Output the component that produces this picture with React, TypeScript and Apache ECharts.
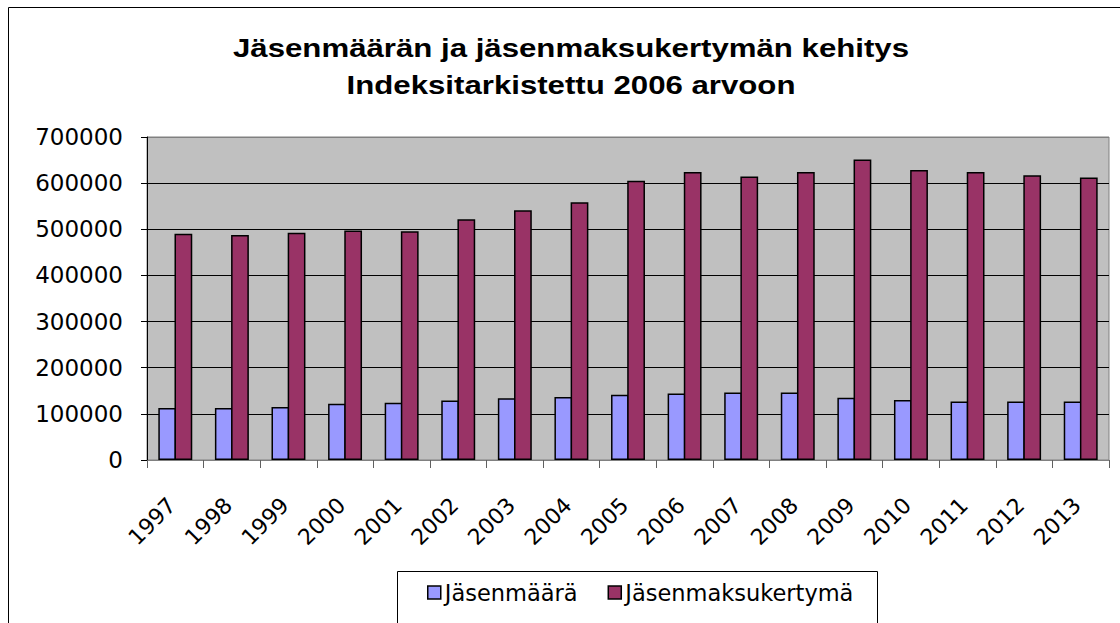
import React, { useEffect, useRef } from "react";
import * as echarts from "echarts";

const years = ["1997", "1998", "1999", "2000", "2001", "2002", "2003", "2004", "2005", "2006", "2007", "2008", "2009", "2010", "2011", "2012", "2013"];
const members = [112500, 112500, 114600, 121800, 124000, 129000, 134000, 136300, 141300, 144200, 146400, 146400, 134800, 129800, 126900, 126900, 126900];
const fees = [490300, 487400, 492400, 497500, 496000, 522000, 541500, 558800, 605000, 624400, 614300, 624400, 651000, 628700, 624400, 617000, 612000];
const seriesNames = ["Jäsenmäärä", "Jäsenmaksukertymä"];
const titleLines = ["Jäsenmäärän ja jäsenmaksukertymän kehitys", "Indeksitarkistettu 2006 arvoon"];

export default function App() {
  const ref = useRef<HTMLDivElement>(null);
  useEffect(() => {
    if (!ref.current) return;
    const chart = echarts.init(ref.current, null, { renderer: "svg" });
    const font = "DejaVu Sans";
    chart.setOption({
      animation: false,
      backgroundColor: "#fff",
      graphic: [
        { type: "rect", shape: { x: 8.5, y: 7.5, width: 1200, height: 700 }, style: { fill: "none", stroke: "#000", lineWidth: 1 }, silent: true },
        { type: "rect", shape: { x: 397.5, y: 571.5, width: 480, height: 100 }, style: { fill: "none", stroke: "#000", lineWidth: 1 }, silent: true },
        { type: "text", x: 571, y: 48, scaleX: 1.2, style: { text: titleLines[0], font: "bold 26px 'Liberation Sans', Arial", fill: "#000", textAlign: "center", textVerticalAlign: "middle" } },
        { type: "text", x: 571, y: 85, scaleX: 1.2, style: { text: titleLines[1], font: "bold 26px 'Liberation Sans', Arial", fill: "#000", textAlign: "center", textVerticalAlign: "middle" } },
      ],
      legend: {
        data: seriesNames,
        left: 427,
        top: 581,
        padding: 0,
        itemWidth: 13,
        itemHeight: 13,
        itemGap: 30,
        icon: "rect",
        itemStyle: { borderColor: "#000", borderWidth: 1.5 },
        textStyle: { fontFamily: font, fontSize: 22.5, color: "#000", padding: [0, 0, 0, -1] },
      },
      grid: {
        left: 147,
        right: 11,
        top: 137,
        bottom: 163,
        show: true,
        backgroundColor: "#C0C0C0",
        borderColor: "#808080",
        borderWidth: 1,
      },
      xAxis: {
        type: "category",
        data: years,
        boundaryGap: true,
        axisLine: { show: true, lineStyle: { color: "#808080", width: 1 } },
        axisTick: { show: true, length: 8, lineStyle: { color: "#606060" } },
        axisLabel: { interval: 0, rotate: 45, margin: 38, padding: [0, 5, 0, 0], fontFamily: font, fontSize: 22, color: "#000" },
        splitLine: { show: false },
      },
      yAxis: {
        type: "value",
        min: 0,
        max: 700000,
        interval: 100000,
        axisLine: { show: true, lineStyle: { color: "#000", width: 1 } },
        axisTick: { show: true, length: 6, lineStyle: { color: "#000" } },
        axisLabel: { margin: 24, fontFamily: font, fontSize: 23, color: "#000", formatter: (v: number) => String(v) },
        splitLine: { show: true, lineStyle: { color: ["#000", "#000", "#000", "#000", "#000", "#000", "#000", "#808080"], width: 1 } },
      },
      series: [
        {
          name: seriesNames[0],
          type: "bar",
          data: members,
          barGap: "-9%",
          barCategoryGap: "40%",
          itemStyle: { color: "#9999FF", borderColor: "#000", borderWidth: 1.5 },
        },
        {
          name: seriesNames[1],
          type: "bar",
          data: fees,
          barGap: "-9%",
          barCategoryGap: "40%",
          itemStyle: { color: "#993366", borderColor: "#000", borderWidth: 1.5 },
        },
      ],
    });
    return () => chart.dispose();
  }, []);
  return <div ref={ref} style={{ position: "fixed", left: 0, top: 0, width: 1120, height: 623 }} />;
}
